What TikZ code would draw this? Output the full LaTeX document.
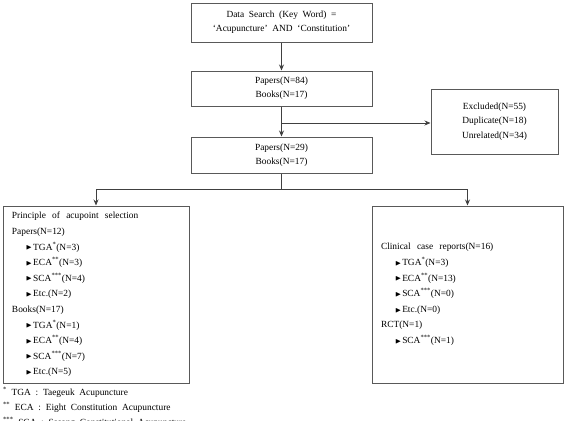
\documentclass[tikz,border=0pt]{standalone}
\usepackage{amssymb}
\usepackage{fontspec}
\setmainfont{Liberation Serif}
\usetikzlibrary{arrows.meta}

\newcommand{\itm}{\hspace*{14pt}\raisebox{0.3pt}{\scriptsize$\blacktriangleright$}\hspace{1pt}}
\newcommand{\sone}{\textsuperscript{*}}
\newcommand{\stwo}{\textsuperscript{**}}
\newcommand{\sthree}{\textsuperscript{***}}

\begin{document}
\begin{tikzpicture}[x=1pt,y=-1pt,
  box/.style={draw=black!65, line width=1pt, inner sep=0pt, align=center,
    font=\fontsize{9.4}{15.6}\selectfont},
  listbox/.style={box, align=left, inner xsep=9pt},
  arr/.style={draw=black!75, line width=0.8pt, -{Stealth[length=6pt,width=5pt]}},
  note/.style={anchor=west, inner sep=0pt, font=\fontsize{9.4}{11}\selectfont}]
\useasboundingbox (0,0) rectangle (566,421);
\node[box, minimum width=181pt, minimum height=39pt] (search) at (281.5,22.5)
  {Data\ \ Search\ \ (Key\ \ Word)\ \ =\\[-2pt]`Acupuncture'\ \ AND\ \ `Constitution'};
\node[box, minimum width=181pt, minimum height=35pt] (papers1) at (281.5,88.5)
  {Papers(N=84)\\[-2pt]Books(N=17)};
\node[box, minimum width=181pt, minimum height=36pt] (papers2) at (281.5,155)
  {Papers(N=29)\\[-2pt]Books(N=17)};
\node[box, minimum width=127pt, minimum height=65pt] (excluded) at (494.5,121.5)
  {Excluded(N=55)\\[-1pt]Duplicate(N=18)\\[-1pt]Unrelated(N=34)};
\node[listbox, text width=168pt, minimum height=177pt] (principle) at (96,294.5)
  {Principle\ \ of\ \ acupoint\ \ selection\\
   Papers(N=12)\\
   \itm TGA\sone(N=3)\\
   \itm ECA\stwo(N=3)\\
   \itm SCA\sthree(N=4)\\
   \itm Etc.(N=2)\\
   Books(N=17)\\
   \itm TGA\sone(N=1)\\
   \itm ECA\stwo(N=4)\\
   \itm SCA\sthree(N=7)\\
   \itm Etc.(N=5)};
\node[listbox, text width=173pt, minimum height=177pt] (clinical) at (467.5,294.5)
  {Clinical\ \ case\ \ reports(N=16)\\
   \itm TGA\sone(N=3)\\
   \itm ECA\stwo(N=13)\\
   \itm SCA\sthree(N=0)\\
   \itm Etc.(N=0)\\
   RCT(N=1)\\
   \itm SCA\sthree(N=1)};
\coordinate (split) at (281.5,189);
\draw[arr] (search) -- (papers1);
\draw[arr] (papers1) -- (papers2);
\draw[arr] (papers1.south |- 0,123) -- (excluded.west |- 0,123);
\draw[arr] (papers2.south) -- (split) -| (principle.north);
\draw[arr] (split) -| (clinical.north);
% footnotes
\node[note] (fn1) at (3,392) {\sone\ \ TGA\ \ :\ \ Taegeuk\ \ Acupuncture};
\node[note] (fn2) at (3,407.5) {\stwo\ \ ECA\ \ :\ \ Eight\ \ Constitution\ \ Acupuncture};
\node[note] (fn3) at (3,422) {\sthree\ \ SCA\ \ :\ \ Sasang\ \ Constitutional\ \ Acupuncture};
\end{tikzpicture}
\end{document}
